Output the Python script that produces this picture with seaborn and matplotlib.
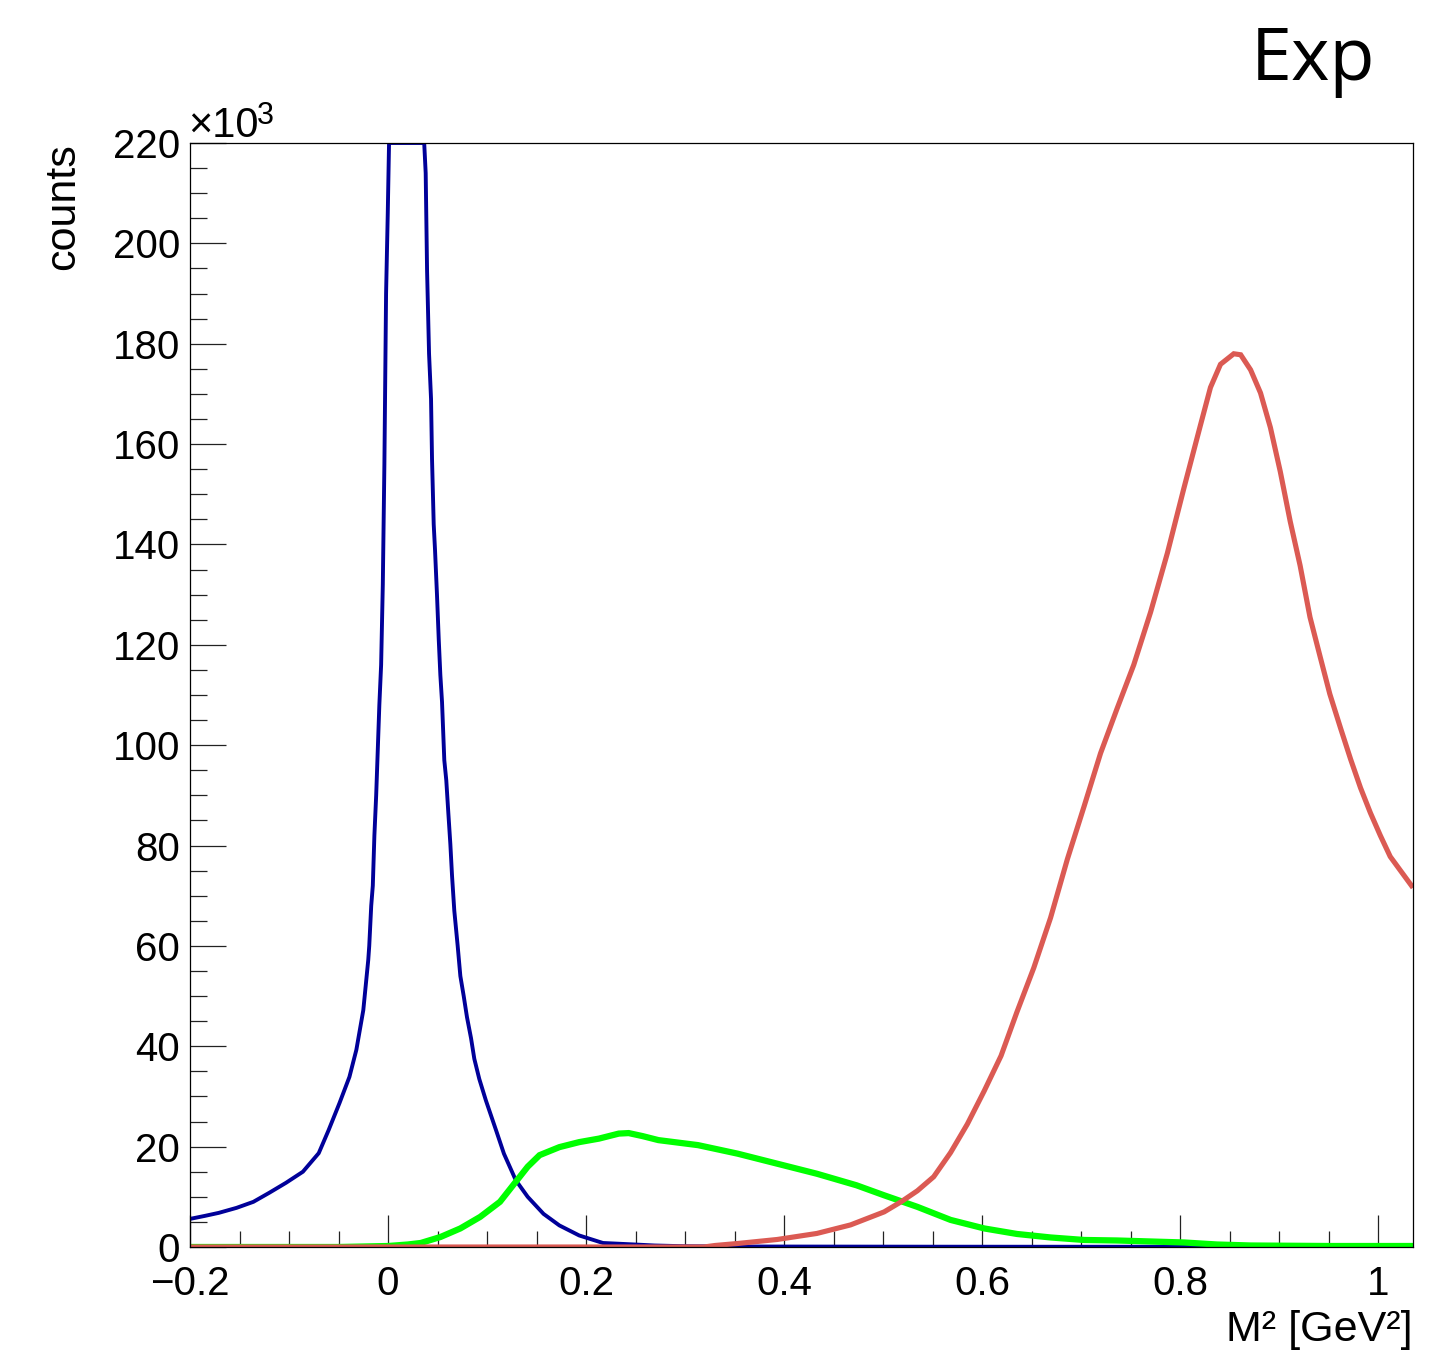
import numpy as np
import pandas as pd
import matplotlib
matplotlib.use("Agg")
import matplotlib.pyplot as plt
from matplotlib.ticker import MultipleLocator, FuncFormatter
import seaborn as sns

# Missing-mass-squared spectra, counts in units of 10^3
blue_x = [-0.200, -0.185, -0.171, -0.153, -0.136, -0.120, -0.103, -0.086, -0.070,
          -0.060, -0.049, -0.039, -0.032, -0.025, -0.020, -0.019, -0.017, -0.0154,
          -0.0138, -0.012, -0.0104, -0.0088, -0.007, -0.0053, -0.0037, -0.002,
          -0.0003, 0.001, 0.018, 0.0365, 0.038, 0.0394, 0.0414, 0.0434, 0.0444,
          0.0461, 0.0474, 0.0494, 0.0512, 0.0528, 0.0545, 0.0568, 0.0588, 0.0608,
          0.0629, 0.0646, 0.0669, 0.0703, 0.073, 0.0764, 0.0797, 0.0838, 0.0871,
          0.0921, 0.0988, 0.109, 0.117, 0.129, 0.141, 0.157, 0.173, 0.193, 0.217,
          0.249, 0.269, 0.300, 0.350, 0.450, 0.550, 0.650, 0.750, 0.866]
blue_k = [5.6, 6.2, 6.8, 7.8, 9.0, 10.8, 12.8, 15.0, 18.7,
          23.3, 28.7, 33.9, 39.3, 47.2, 57.2, 60.0, 68.0, 72.0,
          82.0, 90.0, 99.0, 108.0, 116.0, 132.0, 156.0, 190.0,
          206.0, 245.0, 265.0, 240.0, 214.0, 194.5, 178.0, 169.0, 157.0,
          144.0, 139.0, 130.0, 121.0, 114.0, 108.6, 97.0, 93.0, 86.7,
          80.3, 74.0, 67.0, 60.0, 54.0, 50.0, 45.8, 41.6, 37.5,
          33.5, 29.2, 23.3, 18.6, 13.3, 10.0, 6.6, 4.3, 2.3, 0.8,
          0.5, 0.3, 0.15, 0.1, 0.08, 0.06, 0.05, 0.05, 0.05]

green_x = [-0.200, -0.050, 0.000, 0.020, 0.033, 0.053, 0.073, 0.093, 0.113, 0.129,
           0.141, 0.153, 0.173, 0.193, 0.213, 0.233, 0.243, 0.257, 0.273, 0.313,
           0.353, 0.393, 0.433, 0.473, 0.501, 0.5345, 0.568, 0.602, 0.635, 0.669,
           0.703, 0.736, 0.770, 0.804, 0.837, 0.871, 0.950, 1.035]
green_k = [0.0, 0.0, 0.2, 0.5, 0.8, 2.0, 3.7, 6.0, 9.0, 13.0,
           16.0, 18.3, 19.9, 20.9, 21.6, 22.6, 22.7, 22.1, 21.3, 20.3,
           18.6, 16.6, 14.6, 12.3, 10.3, 8.0, 5.4, 3.7, 2.6, 1.9,
           1.4, 1.3, 1.1, 0.9, 0.5, 0.3, 0.2, 0.2]

red_x = [-0.200, 0.319, 0.330, 0.353, 0.393, 0.433, 0.467, 0.501, 0.518, 0.5345,
         0.551, 0.568, 0.585, 0.602, 0.619, 0.635, 0.652, 0.669, 0.686, 0.703,
         0.7195, 0.736, 0.753, 0.770, 0.787, 0.8035, 0.820, 0.8305, 0.8406, 0.854,
         0.861, 0.871, 0.881, 0.891, 0.901, 0.911, 0.921, 0.931, 0.941, 0.951,
         0.962, 0.972, 0.982, 0.992, 1.002, 1.012, 1.022, 1.035]
red_k = [0.0, 0.0, 0.3, 0.7, 1.5, 2.7, 4.4, 7.0, 9.0, 11.2,
         14.0, 18.8, 24.5, 31.1, 38.1, 46.8, 55.6, 65.6, 77.3, 87.9,
         98.4, 107.2, 116.0, 126.5, 138.3, 151.1, 163.5, 171.3, 175.9, 178.0,
         177.8, 174.8, 170.2, 163.3, 154.5, 144.6, 135.8, 125.5, 117.8, 110.2,
         103.3, 97.2, 91.5, 86.5, 82.0, 77.8, 75.1, 71.6]

x_range = (-0.2, 1.035)
y_range = (0, 220)

sns.set_style("white")
plt.rcParams["font.family"] = ["Liberation Sans", "DejaVu Sans"]
plt.rcParams["text.color"] = "black"
plt.rcParams["axes.labelcolor"] = "black"
plt.rcParams["xtick.color"] = "black"
plt.rcParams["ytick.color"] = "black"

fig = plt.figure(figsize=(14.46, 13.55), dpi=100)
W, H = 1446, 1355
ax = fig.add_axes([190 / W, 1 - 1247 / H, 1223 / W, 1104 / H])

series = [
    (blue_x, blue_k, "#000099", 2.8),
    (green_x, green_k, "#00ff00", 4.5),
    (red_x, red_k, "#db5a53", 3.7),
]
for xs, ys, col, lw in series:
    # values above the frame are drawn along its top edge
    df = pd.DataFrame({"m2": xs, "counts": np.minimum(ys, y_range[1])})
    sns.lineplot(data=df, x="m2", y="counts", ax=ax, color=col, linewidth=lw,
                 estimator=None, sort=False, clip_on=True,
                 solid_joinstyle="miter", solid_capstyle="butt")

ax.set_xlim(*x_range)
ax.set_ylim(*y_range)
ax.set_xlabel("")
ax.set_ylabel("")

for sp in ax.spines.values():
    sp.set_visible(True)
    sp.set_color("black")
    sp.set_linewidth(0.9)

ax.xaxis.set_major_locator(MultipleLocator(0.2))
ax.xaxis.set_minor_locator(MultipleLocator(0.05))
ax.yaxis.set_major_locator(MultipleLocator(20))
ax.yaxis.set_minor_locator(MultipleLocator(5))


def xfmt(v, pos):
    s = "%g" % round(v, 3)
    return s.replace("-", "\u2212")


ax.xaxis.set_major_formatter(FuncFormatter(xfmt))
ax.yaxis.set_major_formatter(FuncFormatter(lambda v, p: "%d" % round(v)))

ax.tick_params(axis="both", which="both", direction="in", bottom=True, left=True,
               top=False, right=False, color="#222222", width=0.9,
               labelsize=29, labelcolor="black")
ax.tick_params(axis="y", which="major", length=26, pad=7)
ax.tick_params(axis="y", which="minor", length=12.5)
ax.tick_params(axis="x", which="major", length=23, pad=13)
ax.tick_params(axis="x", which="minor", length=11.5)

fig.text(63 / W, 1 - 143 / H, "counts", rotation=90, ha="center", va="top", fontsize=31)
fig.text(188 / W, 1 - 137 / H, "\u00d710", ha="left", va="baseline", fontsize=30)
fig.text(257 / W, 1 - 124 / H, "3", ha="left", va="baseline", fontsize=22)
fig.text(1413 / W, 1 - 1341 / H, "M\u00b2 [GeV\u00b2]", ha="right", va="baseline", fontsize=31)
fig.text(1375 / W, 1 - 80 / H, "Exp", ha="right", va="baseline", fontsize=53,
         family=["Open Sans", "DejaVu Sans"])

fig.savefig("out.png", dpi=100)
